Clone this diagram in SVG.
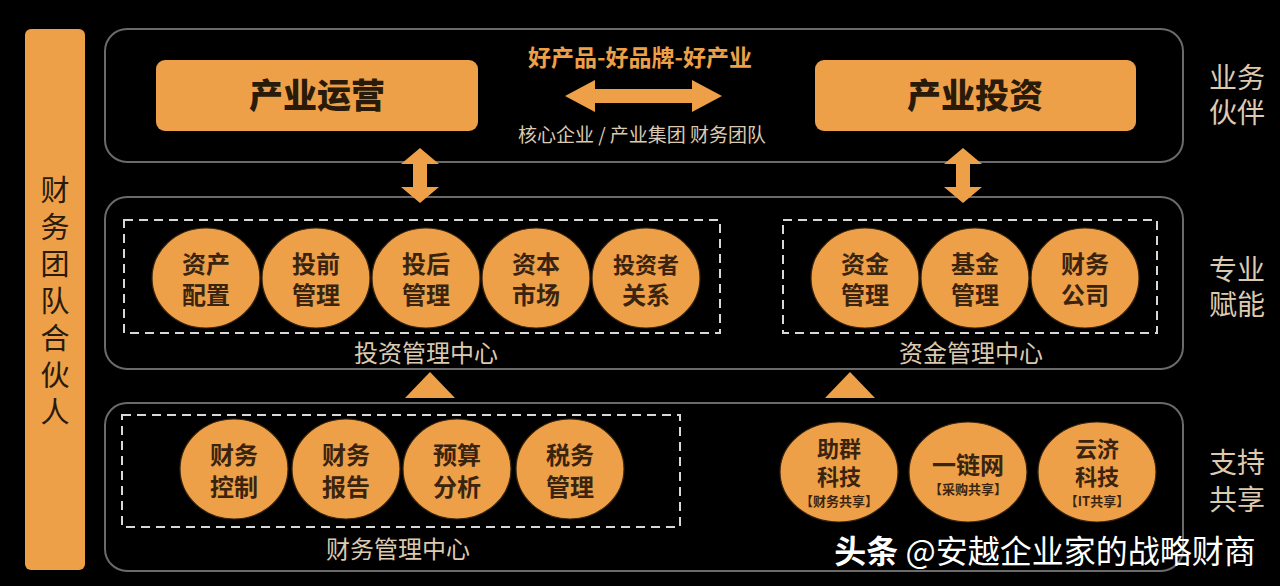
<svg xmlns="http://www.w3.org/2000/svg" width="1280" height="586" viewBox="0 0 1280 586">
<defs>
<style>
text{font-family:"Noto Sans CJK SC","Noto Sans",sans-serif;text-anchor:middle}
.panel{fill:#000;stroke:#6a6a6a;stroke-width:2}
.dash{fill:none;stroke:#d8d8d8;stroke-width:2;stroke-dasharray:9 6}
.orange{fill:#eda047}
.c{fill:#eda047;stroke:#3a2510;stroke-width:1.2}
.ct{fill:#3a2410;font-size:24px;font-weight:bold}
.cs{font-size:13px}
.side{fill:#dccab0;font-size:28px}
.lab{fill:#dccab0;font-size:24px}
.big{fill:#2a1a0a;font-size:34px;font-weight:900}
.vbar{fill:#2a1a0a;font-size:29px}
</style>
</defs>
<rect width="1280" height="586" fill="#000"/>

<g id="side-bar">
<rect x="25" y="29" width="60" height="541" rx="6" class="orange"/>
<text class="vbar"><tspan x="55" y="201">财</tspan><tspan x="55" y="238">务</tspan><tspan x="55" y="275">团</tspan><tspan x="55" y="312">队</tspan><tspan x="55" y="349">合</tspan><tspan x="55" y="386">伙</tspan><tspan x="55" y="423">人</tspan></text>
</g>

<g id="panel-top">
<rect x="105" y="29" width="1078" height="133" rx="22" class="panel"/>
</g>
<g id="panel-mid">
<rect x="105" y="197" width="1078" height="172" rx="22" class="panel"/>
</g>
<g id="panel-bottom">
<rect x="105" y="403" width="1078" height="168" rx="22" class="panel"/>
</g>

<g id="node-operation">
<rect x="156" y="60" width="322" height="71" rx="9" class="orange"/>
<text x="317" y="108" class="big">产业运营</text>
</g>
<g id="node-investment">
<rect x="815" y="60" width="321" height="71" rx="9" class="orange"/>
<text x="975" y="108" class="big">产业投资</text>
</g>

<g id="top-middle">
<text x="640" y="66" style="fill:#eda047;font-size:23px;font-weight:bold">好产品-好品牌-好产业</text>
<text x="642" y="142" style="fill:#dccab0;font-size:19px">核心企业 / 产业集团 财务团队</text>
</g>

<g id="connectors">
<polygon class="orange" points="565,96 595,80 595,89 692,89 692,80 722,96 692,112 692,103 595,103 595,112"/>
<polygon class="orange" points="420,148 439,164 427,164 427,187 439,187 420,203 401,187 413,187 413,164 401,164"/>
<polygon class="orange" points="963,148 982,164 970,164 970,187 982,187 963,203 944,187 956,187 956,164 944,164"/>
<polygon class="orange" points="430,372 455,398 405,398"/>
<polygon class="orange" points="850,372 875,398 825,398"/>
</g>

<g id="labels-right">
<text class="side"><tspan x="1237" y="88">业务</tspan><tspan x="1237" y="123">伙伴</tspan></text>
<text class="side"><tspan x="1237" y="280">专业</tspan><tspan x="1237" y="315">赋能</tspan></text>
<text class="side"><tspan x="1237" y="473">支持</tspan><tspan x="1237" y="510">共享</tspan></text>
</g>

<g id="group-invest">
<rect x="124" y="220" width="596" height="113" class="dash"/>
<text x="426" y="362" class="lab">投资管理中心</text>
</g>
<g id="group-fund">
<rect x="783" y="220" width="374" height="113" class="dash"/>
<text x="971" y="362" class="lab">资金管理中心</text>
</g>
<g id="group-finance">
<rect x="122" y="415" width="558" height="112" class="dash"/>
<text x="398" y="558" class="lab">财务管理中心</text>
</g>

<g id="n-zccz"><ellipse cx="206" cy="278" rx="54" ry="50" class="c"/><text class="ct"><tspan x="206" y="273">资产</tspan><tspan x="206" y="304">配置</tspan></text></g>
<g id="n-tqgl"><ellipse cx="316" cy="278" rx="54" ry="50" class="c"/><text class="ct"><tspan x="316" y="273">投前</tspan><tspan x="316" y="304">管理</tspan></text></g>
<g id="n-thgl"><ellipse cx="426" cy="278" rx="54" ry="50" class="c"/><text class="ct"><tspan x="426" y="273">投后</tspan><tspan x="426" y="304">管理</tspan></text></g>
<g id="n-zbsc"><ellipse cx="536" cy="278" rx="54" ry="50" class="c"/><text class="ct"><tspan x="536" y="273">资本</tspan><tspan x="536" y="304">市场</tspan></text></g>
<g id="n-tzzgx"><ellipse cx="646" cy="278" rx="54" ry="50" class="c"/><text class="ct"><tspan x="646" y="273" style="font-size:22px">投资者</tspan><tspan x="646" y="304">关系</tspan></text></g>

<g id="n-zjgl"><ellipse cx="865" cy="278" rx="54" ry="50" class="c"/><text class="ct"><tspan x="865" y="273">资金</tspan><tspan x="865" y="304">管理</tspan></text></g>
<g id="n-jjgl"><ellipse cx="975" cy="278" rx="54" ry="50" class="c"/><text class="ct"><tspan x="975" y="273">基金</tspan><tspan x="975" y="304">管理</tspan></text></g>
<g id="n-cwgs"><ellipse cx="1085" cy="278" rx="54" ry="50" class="c"/><text class="ct"><tspan x="1085" y="273">财务</tspan><tspan x="1085" y="304">公司</tspan></text></g>

<g id="n-cwkz"><ellipse cx="234" cy="469" rx="54" ry="50" class="c"/><text class="ct"><tspan x="234" y="464">财务</tspan><tspan x="234" y="496">控制</tspan></text></g>
<g id="n-cwbg"><ellipse cx="346" cy="469" rx="54" ry="50" class="c"/><text class="ct"><tspan x="346" y="464">财务</tspan><tspan x="346" y="496">报告</tspan></text></g>
<g id="n-ysfx"><ellipse cx="457" cy="469" rx="54" ry="50" class="c"/><text class="ct"><tspan x="457" y="464">预算</tspan><tspan x="457" y="496">分析</tspan></text></g>
<g id="n-swgl"><ellipse cx="570" cy="469" rx="54" ry="50" class="c"/><text class="ct"><tspan x="570" y="464">税务</tspan><tspan x="570" y="496">管理</tspan></text></g>

<g id="n-zqkj"><ellipse cx="839" cy="472" rx="59" ry="50" class="c"/><text class="ct" style="font-size:22px"><tspan x="839" y="457">助群</tspan><tspan x="839" y="485">科技</tspan><tspan x="839" y="506" class="cs">【财务共享】</tspan></text></g>
<g id="n-ylw"><ellipse cx="968" cy="472" rx="59" ry="50" class="c"/><text class="ct"><tspan x="968" y="474">一链网</tspan><tspan x="968" y="494" class="cs">【采购共享】</tspan></text></g>
<g id="n-yjkj"><ellipse cx="1097" cy="472" rx="59" ry="50" class="c"/><text class="ct" style="font-size:22px"><tspan x="1097" y="457">云济</tspan><tspan x="1097" y="485">科技</tspan><tspan x="1097" y="506" class="cs">【IT共享】</tspan></text></g>

<g id="watermark">
<text x="1045" y="563" style="fill:#fff;font-size:32px"><tspan style="font-weight:bold">头条</tspan> @安越企业家的战略财商</text>
</g>
</svg>
